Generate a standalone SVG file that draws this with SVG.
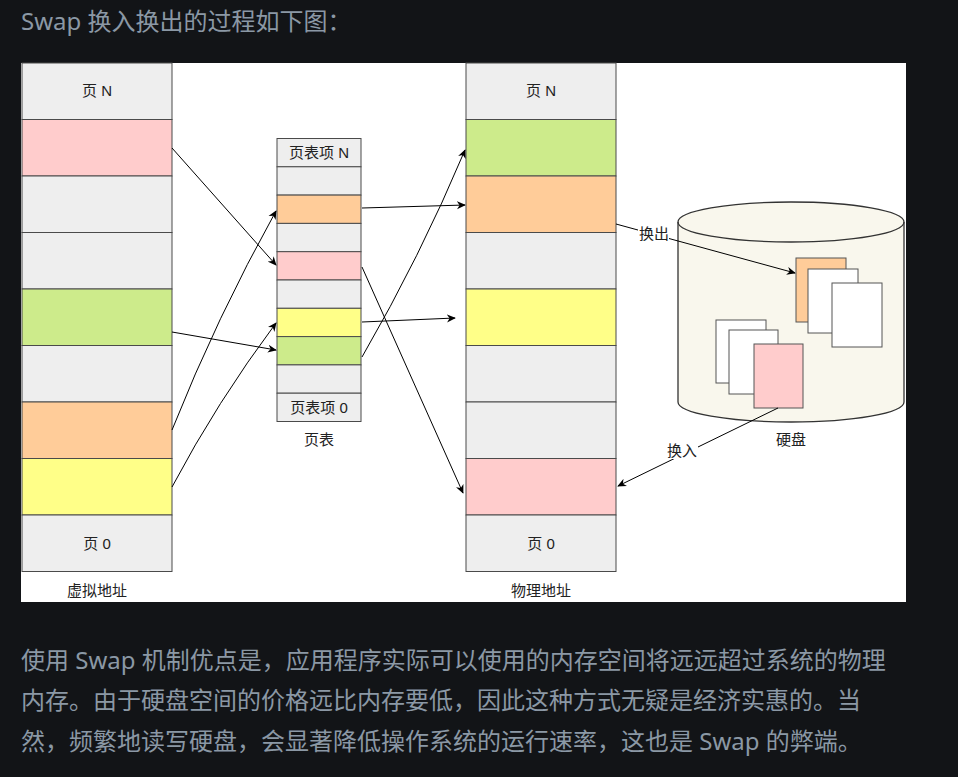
<svg xmlns="http://www.w3.org/2000/svg" width="958" height="777" viewBox="0 0 958 777">
  <defs>
    <style>
      .page { font-family: "Noto Sans", "Noto Sans CJK SC", sans-serif; font-size: 24px; fill: #8b98a5; }
      .lbl { font-family: "Liberation Sans", "Noto Sans CJK SC", sans-serif; font-size: 15px; fill: #222; text-anchor: middle; }
      .cell { stroke: #4a4a4a; stroke-width: 1; }
      .g { fill: #eeeeee; }
      .pk { fill: #ffcccc; }
      .gr { fill: #cdeb8b; }
      .or { fill: #ffcc99; }
      .ye { fill: #ffff88; }
      .paper { stroke: #555; stroke-width: 1; }
      .edge { fill: none; stroke: #000; stroke-width: 1; marker-end: url(#arr); }
    </style>
    <marker id="arr" viewBox="0 0 10 10" refX="9" refY="5" markerWidth="9" markerHeight="9" markerUnits="userSpaceOnUse" orient="auto">
      <path d="M0,0.5 L10,5 L0,9.5 L3,5 z" fill="#000"/>
    </marker>
  </defs>

  <rect x="0" y="0" width="958" height="777" fill="#121417"/>
  <text class="page" x="21" y="30">Swap 换入换出的过程如下图：</text>

  <rect x="21" y="63" width="885" height="539" fill="#ffffff"/>

  <g id="virtual">
    <rect class="cell g" x="22" y="63" width="150" height="56.5"/>
    <rect class="cell pk" x="22" y="119.5" width="150" height="56.5"/>
    <rect class="cell g" x="22" y="176" width="150" height="56.5"/>
    <rect class="cell g" x="22" y="232.5" width="150" height="56.5"/>
    <rect class="cell gr" x="22" y="289" width="150" height="56.5"/>
    <rect class="cell g" x="22" y="345.5" width="150" height="56.5"/>
    <rect class="cell or" x="22" y="402" width="150" height="56.5"/>
    <rect class="cell ye" x="22" y="458.5" width="150" height="56.5"/>
    <rect class="cell g" x="22" y="515" width="150" height="56.5"/>
    <text class="lbl" x="97" y="96">页 N</text>
    <text class="lbl" x="97" y="549">页 0</text>
    <text class="lbl" x="97" y="596">虚拟地址</text>
  </g>

  <g id="pagetable">
    <rect class="cell g" x="277" y="138.5" width="84" height="28.3"/>
    <rect class="cell g" x="277" y="166.8" width="84" height="28.3"/>
    <rect class="cell or" x="277" y="195.1" width="84" height="28.3"/>
    <rect class="cell g" x="277" y="223.4" width="84" height="28.3"/>
    <rect class="cell pk" x="277" y="251.7" width="84" height="28.3"/>
    <rect class="cell g" x="277" y="280" width="84" height="28.3"/>
    <rect class="cell ye" x="277" y="308.3" width="84" height="28.3"/>
    <rect class="cell gr" x="277" y="336.6" width="84" height="28.3"/>
    <rect class="cell g" x="277" y="364.9" width="84" height="28.3"/>
    <rect class="cell g" x="277" y="393.2" width="84" height="28.3"/>
    <text class="lbl" x="319" y="158">页表项 N</text>
    <text class="lbl" x="319" y="413">页表项 0</text>
    <text class="lbl" x="319" y="445">页表</text>
  </g>

  <g id="physical">
    <rect class="cell g" x="466" y="63" width="150" height="56.5"/>
    <rect class="cell gr" x="466" y="119.5" width="150" height="56.5"/>
    <rect class="cell or" x="466" y="176" width="150" height="56.5"/>
    <rect class="cell g" x="466" y="232.5" width="150" height="56.5"/>
    <rect class="cell ye" x="466" y="289" width="150" height="56.5"/>
    <rect class="cell g" x="466" y="345.5" width="150" height="56.5"/>
    <rect class="cell g" x="466" y="402" width="150" height="56.5"/>
    <rect class="cell pk" x="466" y="458.5" width="150" height="56.5"/>
    <rect class="cell g" x="466" y="515" width="150" height="56.5"/>
    <text class="lbl" x="541" y="96">页 N</text>
    <text class="lbl" x="541" y="549">页 0</text>
    <text class="lbl" x="541" y="596">物理地址</text>
  </g>

  <g id="disk">
    <path d="M678,222 L678,402 A113,20 0 0 0 904,402 L904,222 A113,20 0 0 0 678,222 Z" fill="#f9f7ed" stroke="#333" stroke-width="1.3"/>
    <path d="M678,222 A113,20 0 0 0 904,222" fill="none" stroke="#333" stroke-width="1.3"/>
    <rect class="paper or" x="796" y="258" width="50" height="64"/>
    <rect class="paper" x="808" y="269" width="50" height="64" fill="#fff"/>
    <rect class="paper" x="832" y="283" width="50" height="64" fill="#fff"/>
    <rect class="paper" x="716" y="320" width="50" height="63" fill="#fff"/>
    <rect class="paper" x="729" y="330" width="49" height="64" fill="#fff"/>
    <rect class="paper pk" x="754" y="344" width="49" height="64"/>
    <text class="lbl" x="791" y="445">硬盘</text>
  </g>

  <g id="connectors">
    <path class="edge" d="M172,148 L276,265"/>
    <path class="edge" d="M172,332 L276,350"/>
    <path class="edge" d="M172,430 Q217,317 276,211"/>
    <path class="edge" d="M172,487 Q217,402 276,323"/>
    <path class="edge" d="M362,208 L465,205"/>
    <path class="edge" d="M362,322 L455,318"/>
    <path class="edge" d="M362,357 Q420,257 465,150"/>
    <path class="edge" d="M362,267 L463,493"/>
    <path class="edge" d="M616,224 L795,273"/>
    <path class="edge" d="M778,408 L618,486"/>
    <rect x="638" y="225" width="31" height="17" fill="#fff"/>
    <text class="lbl" x="654" y="239">换出</text>
    <rect x="667" y="443" width="31" height="16" fill="#fff"/>
    <text class="lbl" x="682" y="456">换入</text>
  </g>

  <text class="page" x="21" y="669">使用 Swap 机制优点是，应用程序实际可以使用的内存空间将远远超过系统的物理</text>
  <text class="page" x="21" y="709">内存。由于硬盘空间的价格远比内存要低，因此这种方式无疑是经济实惠的。当</text>
  <text class="page" x="21" y="750">然，频繁地读写硬盘，会显著降低操作系统的运行速率，这也是 Swap 的弊端。</text>
</svg>
